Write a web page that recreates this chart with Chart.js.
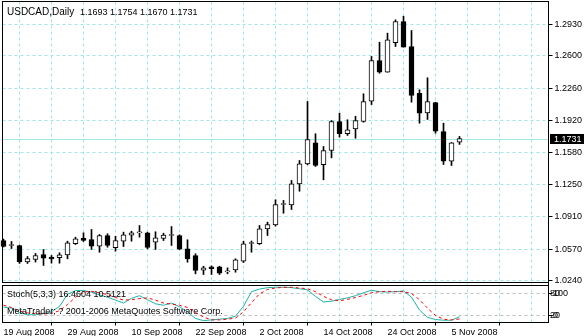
<!DOCTYPE html>
<html>
<head>
<meta charset="utf-8">
<script src="https://cdn.jsdelivr.net/npm/chart.js@4"></script>
<style>
  body { margin: 0; background: #fff; }
  canvas { display: block; }
</style>
</head>
<body>
<canvas id="chart1" width="584" height="336"></canvas>
<script>
var symbol = "USDCAD,Daily";
var tickDates = ["19 Aug 2008", "29 Aug 2008", "10 Sep 2008", "22 Sep 2008",
  "2 Oct 2008", "14 Oct 2008", "24 Oct 2008", "5 Nov 2008"];
var priceTicks = [1.2930, 1.2600, 1.2260, 1.1920, 1.1580, 1.1250, 1.0910, 1.0570, 1.0240];
var stochLevels = [20, 80];

var opens = [1.0660, 1.0608, 1.0608, 1.0434, 1.0461, 1.0513, 1.0485, 1.0479, 1.0510, 1.0626,
  1.0684, 1.0671, 1.0600, 1.0713, 1.0584, 1.0653, 1.0716, 1.0741, 1.0741, 1.0642,
  1.0681, 1.0713, 1.0713, 1.0573, 1.0503, 1.0348, 1.0384, 1.0384, 1.0331, 1.0352,
  1.0443, 1.0629, 1.0626, 1.0783, 1.0825, 1.1039, 1.1035, 1.1256, 1.1466, 1.1687,
  1.1456, 1.1606, 1.1911, 1.1782, 1.1834, 1.1911, 1.2124, 1.2552, 1.2429, 1.2738,
  1.2962, 1.2699, 1.2208, 1.2002, 1.2110, 1.1806, 1.1494, 1.1693];
var highs = [1.0675, 1.0650, 1.0612, 1.0492, 1.0524, 1.0566, 1.0503, 1.0531, 1.0653, 1.0695,
  1.0741, 1.0776, 1.0723, 1.0731, 1.0705, 1.0748, 1.0758, 1.0818, 1.0748, 1.0752,
  1.0737, 1.0807, 1.0720, 1.0668, 1.0521, 1.0390, 1.0394, 1.0390, 1.0373, 1.0468,
  1.0653, 1.0655, 1.0818, 1.0853, 1.1088, 1.1081, 1.1291, 1.1501, 1.2121, 1.1782,
  1.1648, 1.1921, 1.1998, 1.1929, 1.1966, 1.2202, 1.2594, 1.2744, 1.2839, 1.2979,
  1.3017, 1.2867, 1.2244, 1.2370, 1.2112, 1.1893, 1.1690, 1.1754];
var lows = [1.0592, 1.0576, 1.0419, 1.0419, 1.0434, 1.0398, 1.0422, 1.0422, 1.0468, 1.0618,
  1.0650, 1.0566, 1.0537, 1.0590, 1.0548, 1.0597, 1.0653, 1.0695, 1.0573, 1.0566,
  1.0660, 1.0608, 1.0563, 1.0432, 1.0310, 1.0303, 1.0303, 1.0303, 1.0310, 1.0327,
  1.0429, 1.0537, 1.0618, 1.0713, 1.0811, 1.0947, 1.0986, 1.1178, 1.1456, 1.1438,
  1.1298, 1.1529, 1.1746, 1.1764, 1.1735, 1.1903, 1.2089, 1.2418, 1.2429, 1.2699,
  1.2692, 1.2114, 1.1893, 1.1932, 1.1788, 1.1459, 1.1448, 1.1670];
var closes = [1.0597, 1.0608, 1.0434, 1.0471, 1.0503, 1.0474, 1.0468, 1.0510, 1.0636, 1.0678,
  1.0660, 1.0600, 1.0713, 1.0608, 1.0660, 1.0720, 1.0741, 1.0741, 1.0587, 1.0689,
  1.0716, 1.0713, 1.0569, 1.0468, 1.0345, 1.0373, 1.0363, 1.0317, 1.0331, 1.0457,
  1.0626, 1.0629, 1.0783, 1.0828, 1.1039, 1.1039, 1.1256, 1.1466, 1.1722, 1.1448,
  1.1606, 1.1911, 1.1782, 1.1824, 1.1921, 1.2121, 1.2552, 1.2429, 1.2769, 1.2962,
  1.2692, 1.2184, 1.1998, 1.2121, 1.1809, 1.1494, 1.1687, 1.1731];

var stochMain = [43, 40, 28, 22, 22, 25, 30, 45, 78, 88,
  88, 84, 76, 70, 62, 54, 67, 74, 63, 52,
  48, 54, 44, 30, 12, 6, 8, 10, 12, 18,
  45, 85, 92, 96, 97, 97, 96, 93, 90, 72,
  57, 59, 64, 68, 74, 82, 89, 85, 84, 85,
  87, 70, 35, 15, 9, 7, 7, 16.4604];
var stochSignal = [48, 42, 32, 27, 25, 24, 26, 33, 50, 70,
  84, 86, 82, 77, 69, 62, 63, 66, 68, 62,
  54, 51, 48, 42, 28, 16, 8, 8, 10, 13,
  30, 55, 79, 91, 95, 97, 97, 95, 93, 85,
  72, 63, 60, 64, 69, 75, 82, 85, 86, 85,
  85, 80, 63, 40, 20, 10, 8, 10.5121];

var GRID = "#a0e6e6";
var FONT = '"Liberation Sans", Arial, sans-serif';

// keep chart.js from reserving room for half a tick label
function noPad(s) {
  s.paddingTop = 0;
  s.paddingBottom = 0;
  s.paddingLeft = 0;
  s.paddingRight = 0;
}

function drawGraph() {
  var ctx = document.getElementById("chart1").getContext("2d");
  var last = closes.length - 1;

  var wicks = [], bodies = [], kLine = [], dLine = [];
  for (var i = 0; i < closes.length; i++) {
    wicks.push({ x: i, y: [lows[i], highs[i]] });
    bodies.push({ x: i, y: [opens[i], closes[i]] });
    kLine.push({ x: i, y: stochMain[i] });
    dLine.push({ x: i, y: stochSignal[i] });
  }
  var bodyColors = closes.map(function (c, i) {
    return c < opens[i] ? "#000" : "#fff";
  });

  var overlay = {
    id: "overlay",
    beforeDatasetsDraw: function (chart) {
      // bid line
      var c = chart.ctx, a = chart.chartArea;
      var py = Math.round(chart.scales.y.getPixelForValue(closes[last])) + 0.5;
      c.save();
      c.strokeStyle = GRID;
      c.lineWidth = 1;
      c.beginPath();
      c.moveTo(a.left, py);
      c.lineTo(a.right, py);
      c.stroke();
      c.restore();
    },
    afterDraw: function (chart) {
      var c = chart.ctx, a = chart.chartArea;
      var y = chart.scales.y, y2 = chart.scales.y2;
      c.save();
      c.strokeStyle = "#000";
      c.lineWidth = 1;
      c.strokeRect(a.left, a.top, a.right - a.left, y.bottom - 1 - a.top);
      c.strokeRect(a.left, y2.top + 2, a.right - a.left, a.bottom - y2.top - 2);

      c.fillStyle = "#000";
      c.textAlign = "left";
      c.textBaseline = "alphabetic";
      c.font = "10px " + FONT;
      c.fillText(symbol, 7, 15);
      c.font = "9px " + FONT;
      var q = [opens[last], highs[last], lows[last], closes[last]].map(function (v) {
        return v.toFixed(4);
      });
      c.fillText(q.join(" "), 80, 15);

      c.fillText("Stoch(5,3,3) " + stochMain[last].toFixed(4) + " " + stochSignal[last].toFixed(4), 7, 297);
      c.fillText("MetaTrader; ? 2001-2006 MetaQuotes Software Corp.", 7, 314);

      // stoch scale labels, squeezed like the original
      c.textBaseline = "middle";
      c.fillText("80", 550, y2.getPixelForValue(80));
      c.fillText("100", 553, y2.getPixelForValue(80));
      c.fillText("20", 550, y2.getPixelForValue(20));
      c.fillText("0", 553, y2.getPixelForValue(20));

      // bid price box
      var py = Math.round(y.getPixelForValue(closes[last])) + 0.5;
      c.fillRect(550, py - 5.5, 34, 10);
      c.fillStyle = "#fff";
      c.fillText(closes[last].toFixed(4), 554, py);
      c.restore();
    }
  };

  var myChart = new Chart(ctx, {
    type: "bar",
    data: {
      datasets: [
        {
          type: "line",
          label: "Signal",
          data: dLine,
          yAxisID: "y2",
          borderColor: "#ff0000",
          borderWidth: 1,
          borderDash: [3, 3],
          pointRadius: 0,
          order: 0,
        },
        {
          type: "line",
          label: "Main",
          data: kLine,
          yAxisID: "y2",
          borderColor: "#20b2aa",
          borderWidth: 1,
          pointRadius: 0,
          order: 1,
        },
        {
          label: "Body",
          data: bodies,
          yAxisID: "y",
          backgroundColor: bodyColors,
          borderColor: "#000",
          borderWidth: 1,
          borderSkipped: false,
          barThickness: 5,
          minBarLength: 1,
          grouped: false,
          clip: false,
          order: 2,
        },
        {
          label: "Wick",
          data: wicks,
          yAxisID: "y",
          backgroundColor: "#000",
          borderWidth: 0,
          barThickness: 1,
          grouped: false,
          clip: false,
          order: 3,
        },
      ],
    },
    options: {
      responsive: false,
      animation: false,
      events: [],
      devicePixelRatio: 1,
      layout: { padding: { top: 1.5, left: 2.5, right: 0, bottom: 0 } },
      plugins: { legend: { display: false }, tooltip: { enabled: false } },
      scales: {
        x: {
          type: "linear",
          min: -0.125,
          max: 68.125,
          offset: false,
          afterBuildTicks: function (s) {
            var t = [];
            for (var v = 0; v <= 68; v += 4) t.push({ value: v });
            s.ticks = t;
          },
          afterFit: function (s) { s.height = 13.5; noPad(s); },
          ticks: {
            autoSkip: false,
            maxRotation: 0,
            align: "start",
            padding: 2,
            color: "#000",
            font: { family: FONT, size: 9 },
            callback: function (v) {
              return v % 8 === 0 ? (tickDates[v / 8] || "") : "";
            },
          },
          grid: {
            color: GRID,
            tickLength: 3,
            tickColor: function (c) {
              return c.tick && c.tick.value % 8 === 0 ? "#000" : "rgba(0,0,0,0)";
            },
          },
          border: { color: "#000", dash: [3, 3] },
        },
        y: {
          type: "linear",
          position: "right",
          stack: "win",
          stackWeight: 282,
          min: 1.02084,
          max: 1.31717,
          afterBuildTicks: function (s) {
            s.ticks = priceTicks.map(function (v) { return { value: v }; });
          },
          afterFit: function (s) { s.width = 35.5; noPad(s); },
          ticks: {
            padding: 2,
            color: "#000",
            font: { family: FONT, size: 9 },
            callback: function (v) { return v.toFixed(4); },
          },
          grid: { color: GRID, tickColor: "#000", tickLength: 4 },
          border: { color: "#000", dash: [3, 3] },
        },
        y2: {
          type: "linear",
          position: "right",
          stack: "win",
          stackWeight: 39,
          min: 0.9,
          max: 107.3,
          afterBuildTicks: function (s) {
            s.ticks = stochLevels.map(function (v) { return { value: v }; });
          },
          afterFit: function (s) { s.width = 35.5; noPad(s); },
          ticks: { display: false },
          grid: { color: "#c0c0c0", tickColor: "#000", tickLength: 4 },
          border: { color: "#000", dash: [3, 3] },
        },
      },
    },
    plugins: [overlay],
  });
}
window.onload = drawGraph;
</script>
</body>
</html>
